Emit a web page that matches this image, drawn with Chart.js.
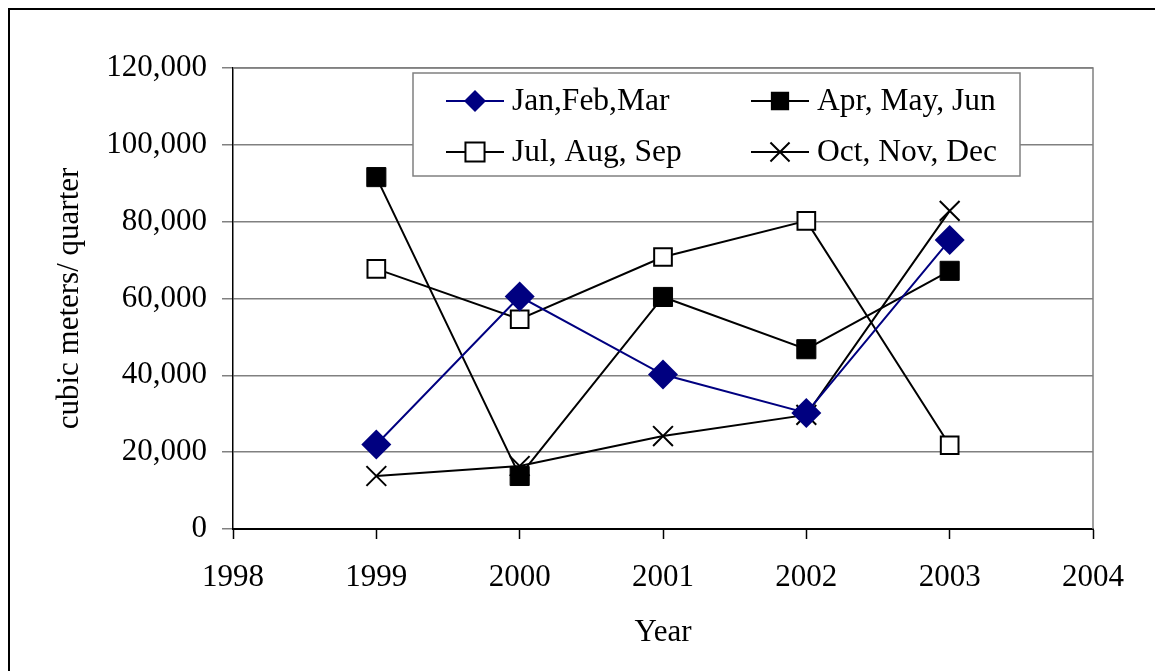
<!DOCTYPE html>
<html>
<head>
<meta charset="utf-8">
<script src="https://cdn.jsdelivr.net/npm/chart.js@4/dist/chart.umd.min.js"></script>
<style>
  html, body { margin: 0; padding: 0; background: #fff; }
  #wrap { position: relative; width: 1155px; height: 671px; overflow: hidden; }
  #frame { position: absolute; left: 8px; top: 8px; width: 1200px; height: 700px; border: 2px solid #000; }
  canvas { position: absolute; left: 0; top: 0; }
</style>
</head>
<body>
<div id="wrap">
  <div id="frame"></div>
  <canvas id="chart0" width="1155" height="671"></canvas>
</div>
<script>
// data
const years = [1999, 2000, 2001, 2002, 2003];
const janFebMar = [22000, 60500, 40200, 30200, 75200];
const aprMayJun = [91600, 13800, 60400, 46800, 67200];
const julAugSep = [67700, 54600, 70800, 80200, 21800];
const octNovDec = [13800, 16400, 24200, 29700, 82800];
const seriesNames = ["Jan,Feb,Mar", "Apr, May, Jun", "Jul, Aug, Sep", "Oct, Nov, Dec"];
const yearMin = 1998, yearMax = 2004;
const valueMax = 120000, valueStep = 20000;

const FONT = "'Liberation Serif', 'Times New Roman', serif";

function pts(vals) {
  return vals.map((v, i) => ({ x: years[i], y: v }));
}

// legend marker, drawn like the chart's points
function marker(ctx, style, x, y, r, fill, stroke) {
  ctx.save();
  ctx.lineWidth = 2;
  ctx.strokeStyle = stroke;
  ctx.fillStyle = fill;
  ctx.beginPath();
  if (style === "rectRot") {
    ctx.moveTo(x, y - r); ctx.lineTo(x + r, y); ctx.lineTo(x, y + r); ctx.lineTo(x - r, y);
    ctx.closePath(); ctx.fill();
  } else if (style === "rect") {
    const s = Math.SQRT1_2 * r;
    ctx.rect(x - s, y - s, 2 * s, 2 * s); ctx.fill(); ctx.stroke();
  } else if (style === "crossRot") {
    const s = Math.SQRT1_2 * r;
    ctx.moveTo(x - s, y - s); ctx.lineTo(x + s, y + s);
    ctx.moveTo(x + s, y - s); ctx.lineTo(x - s, y + s);
    ctx.stroke();
  }
  ctx.restore();
}

// gray top/right edge of the plot area
const plotFrame = {
  id: "plotFrame",
  beforeDatasetsDraw(chart) {
    const a = chart.chartArea, ctx = chart.ctx;
    ctx.save();
    ctx.strokeStyle = "#808080";
    ctx.lineWidth = 1.5;
    ctx.beginPath();
    ctx.moveTo(a.left, a.top); ctx.lineTo(a.right, a.top); ctx.lineTo(a.right, a.bottom);
    ctx.stroke();
    ctx.restore();
  }
};

// legend box inside the plot, two columns
const boxLegend = {
  id: "boxLegend",
  afterDatasetsDraw(chart) {
    const ctx = chart.ctx;
    const bx = 413, by = 73, bw = 607, bh = 103;
    ctx.save();
    ctx.fillStyle = "#fff";
    ctx.fillRect(bx, by, bw, bh);
    ctx.strokeStyle = "#808080";
    ctx.lineWidth = 1.5;
    ctx.strokeRect(bx, by, bw, bh);
    const cols = [446, 751], rows = [101, 152];
    const legR = [11, 11.5, 13.5, 13.5];
    chart.data.datasets.forEach((ds, i) => {
      const x0 = cols[i % 2], y0 = rows[Math.floor(i / 2)];
      ctx.strokeStyle = ds.borderColor;
      ctx.lineWidth = 2;
      ctx.beginPath(); ctx.moveTo(x0, y0); ctx.lineTo(x0 + 58, y0); ctx.stroke();
      marker(ctx, ds.pointStyle, x0 + 29, y0, legR[i], ds.pointBackgroundColor, ds.pointBorderColor);
      ctx.fillStyle = "#000";
      ctx.font = "31.5px " + FONT;
      ctx.textBaseline = "middle";
      ctx.fillText(ds.label, x0 + 66, y0 + 1);
    });
    ctx.restore();
  }
};

const ctx = document.getElementById("chart0").getContext("2d");
const myChart = new Chart(ctx, {
  type: "line",
  data: {
    datasets: [
      {
        label: seriesNames[0],
        data: pts(janFebMar),
        borderColor: "#000080",
        borderWidth: 2,
        pointStyle: "rectRot",
        pointRadius: 15,
        pointBackgroundColor: "#000080",
        pointBorderColor: "#000080",
        pointBorderWidth: 0
      },
      {
        label: seriesNames[1],
        data: pts(aprMayJun),
        borderColor: "#000",
        borderWidth: 2,
        pointStyle: "rect",
        pointRadius: 13.5,
        pointBackgroundColor: "#000",
        pointBorderColor: "#000",
        pointBorderWidth: 1
      },
      {
        label: seriesNames[2],
        data: pts(julAugSep),
        borderColor: "#000",
        borderWidth: 2,
        pointStyle: "rect",
        pointRadius: 12.5,
        pointBackgroundColor: "#fff",
        pointBorderColor: "#000",
        pointBorderWidth: 2
      },
      {
        label: seriesNames[3],
        data: pts(octNovDec),
        borderColor: "#000",
        borderWidth: 2,
        pointStyle: "crossRot",
        pointRadius: 14,
        pointBackgroundColor: "#000",
        pointBorderColor: "#000",
        pointBorderWidth: 2
      }
    ]
  },
  options: {
    responsive: false,
    animation: false,
    layout: { padding: { top: 68, right: 62, left: 0, bottom: 0 } },
    plugins: {
      legend: { display: false },
      tooltip: { enabled: false }
    },
    elements: { line: { tension: 0, fill: false } },
    scales: {
      x: {
        type: "linear",
        min: yearMin,
        max: yearMax,
        afterFit(scale) { scale.height = 142; },
        ticks: {
          stepSize: 1,
          color: "#000",
          font: { family: FONT, size: 31 },
          padding: 20,
          maxRotation: 0,
          callback: (v) => String(v)
        },
        grid: { drawOnChartArea: false, drawTicks: true, tickLength: 10, tickColor: "#000", tickWidth: 1.5 },
        border: { display: true, color: "#000", width: 2 },
        title: {
          display: true,
          text: "Year",
          color: "#000",
          font: { family: FONT, size: 31 },
          padding: { top: 20, bottom: 20 }
        }
      },
      y: {
        min: 0,
        max: valueMax,
        afterFit(scale) { scale.width = 233; },
        ticks: {
          stepSize: valueStep,
          color: "#000",
          font: { family: FONT, size: 31 },
          padding: 15,
          callback: (v) => v.toLocaleString("en-US")
        },
        grid: { color: "#808080", lineWidth: 1.5, drawTicks: true, tickLength: 11, tickColor: "#808080" },
        border: { display: true, color: "#000", width: 1.5 },
        title: {
          display: true,
          text: "cubic meters/ quarter",
          color: "#000",
          font: { family: FONT, size: 31 },
          padding: { top: 51, bottom: 51 }
        }
      }
    }
  },
  plugins: [plotFrame, boxLegend]
});
</script>
</body>
</html>
